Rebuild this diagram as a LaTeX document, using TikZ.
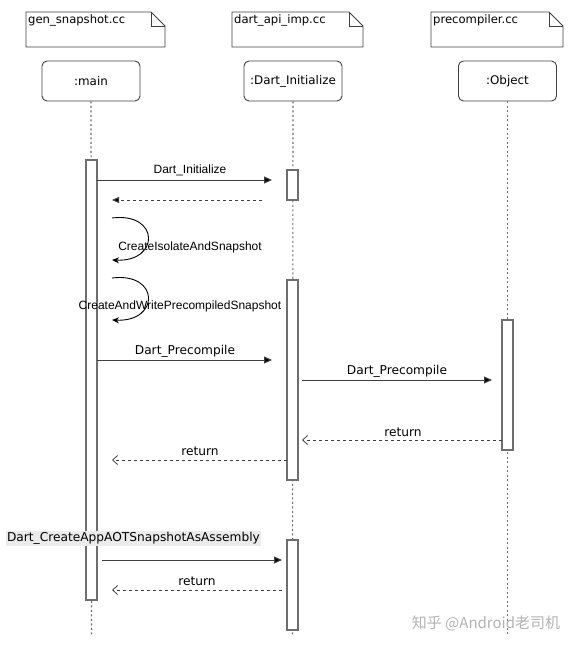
\documentclass[tikz,border=0pt]{standalone}
\usepackage{fontspec}
\setmainfont{Liberation Sans}
\newfontfamily\tfont{DejaVu Sans}
\newfontfamily\cjk{Noto Sans CJK SC}
\usetikzlibrary{arrows.meta}
\definecolor{linegray}{HTML}{6E6E6E}
\begin{document}
\begin{tikzpicture}[x=1pt,y=-1pt,
  notebox/.style={draw=black!75, line width=0.9pt},
  head/.style={draw=black!75, rounded corners=5pt, minimum width=98pt, minimum height=40pt, line width=0.9pt, font=\tfont\fontsize{11.9}{14}\selectfont, inner sep=0pt},
  act/.style={draw=linegray, fill=white, line width=1.1pt, minimum width=11pt, inner sep=0pt},
  life/.style={draw=linegray, dash pattern=on 2pt off 2.5pt, line width=1.1pt},
  msg/.style={draw=black!75, line width=1pt, -{Triangle[length=8pt,width=7pt,fill=black]}},
  ret/.style={draw=black!75, line width=1pt, dash pattern=on 3pt off 3pt, -{Straight Barb[length=5pt,width=9pt,line width=0.8pt]}},
  retfill/.style={draw=black!75, line width=1pt, dash pattern=on 3pt off 3pt, -{Triangle[length=7pt,width=6pt,fill=black]}},
  selfc/.style={draw=black, line width=0.9pt, -{Stealth[length=7pt,width=6pt]}},
  lbl/.style={font=\fontsize{12}{14}\selectfont, inner sep=0pt},
  tlbl/.style={font=\tfont\fontsize{12.2}{14}\selectfont, inner sep=0pt},
  nlbl/.style={font=\tfont\fontsize{11.6}{13}\selectfont, inner sep=0pt},
]
\useasboundingbox (0,0) rectangle (573,648);

% notes
\foreach \xa/\xb/\t in {26/165/gen\_snapshot.cc, 232/363/dart\_api\_imp.cc, 431/563/precompiler.cc}{
  \draw[notebox] (\xa,12) -- (\xb-14,12) -- (\xb,26) -- (\xb,47) -- (\xa,47) -- cycle;
  \draw[notebox] (\xb-14,12) -- (\xb-14,26) -- (\xb,26);
  \node[nlbl, anchor=north west] at (\xa+2,14.5) {\t};
}

% heads
\node[head] (main) at (91,81) {:main};
\node[head] (dinit) at (293,81) {:Dart\_Initialize};
\node[head] (obj) at (507.5,81) {:Object};

% lifelines
\coordinate (mainend) at (91.5,636);
\coordinate (dinitend) at (292.5,636);
\coordinate (objend) at (507.5,636);
\draw[life] (main.south) -- (mainend);
\draw[life] (dinit.south) -- (dinitend);
\draw[life] (obj.south) -- (objend);

% activations
\node[act, minimum height=440pt] (amain) at (91.5,380) {};
\node[act, minimum height=30pt] (ad1) at (292.5,185) {};
\node[act, minimum height=200pt] (ad2) at (292.5,380) {};
\node[act, minimum height=90pt] (ad3) at (292.5,585) {};
\node[act, minimum height=130pt] (aobj) at (507.5,385) {};

% message endpoints
\coordinate (m1a) at (97,180); \coordinate (m1b) at (272,180);
\coordinate (r1a) at (262,200); \coordinate (r1b) at (112,200);
\coordinate (s1a) at (112,218); \coordinate (s1b) at (112,260);
\coordinate (s2a) at (112,278); \coordinate (s2b) at (112,320);
\coordinate (m2a) at (97,360); \coordinate (m2b) at (272,360);
\coordinate (m3a) at (302,380); \coordinate (m3b) at (492,380);
\coordinate (r2a) at (502,440); \coordinate (r2b) at (302,440);
\coordinate (r3a) at (287,460); \coordinate (r3b) at (112,460);
\coordinate (m4a) at (102,560); \coordinate (m4b) at (282,560);
\coordinate (r4a) at (282,590); \coordinate (r4b) at (112,590);

\draw[msg] (m1a) -- (m1b);
\node[lbl] (l1) at (190,170) {Dart\_Initialize};
\draw[retfill] (r1a) -- (r1b);

\draw[selfc] (s1a) .. controls (160,212) and (160,262) .. (s1b);
\node[lbl] (l2) at (190,247) {CreateIsolateAndSnapshot};
\draw[selfc] (s2a) .. controls (160,272) and (160,322) .. (s2b);
\node[lbl] (l3) at (180,306) {CreateAndWritePrecompiledSnapshot};

\draw[msg] (m2a) -- (m2b);
\node[tlbl] (l4) at (185,351) {Dart\_Precompile};
\draw[msg] (m3a) -- (m3b);
\node[tlbl] (l5) at (397,371) {Dart\_Precompile};

\draw[ret] (r2a) -- (r2b);
\node[tlbl] (l6) at (403,432) {return};
\draw[ret] (r3a) -- (r3b);
\node[tlbl] (l7) at (200,451) {return};

\node[tlbl, fill=black!8, inner sep=1.5pt] (l8) at (133.5,538.5) {Dart\_CreateAppAOTSnapshotAsAssembly};
\draw[msg] (m4a) -- (m4b);
\draw[ret] (r4a) -- (r4b);
\node[tlbl] (l9) at (197,581) {return};

% watermark
\node[font=\cjk\fontsize{15}{17}\selectfont, text=black!30, inner sep=0pt] (wm) at (486,623) {知乎 @Android老司机};
\end{tikzpicture}
\end{document}
